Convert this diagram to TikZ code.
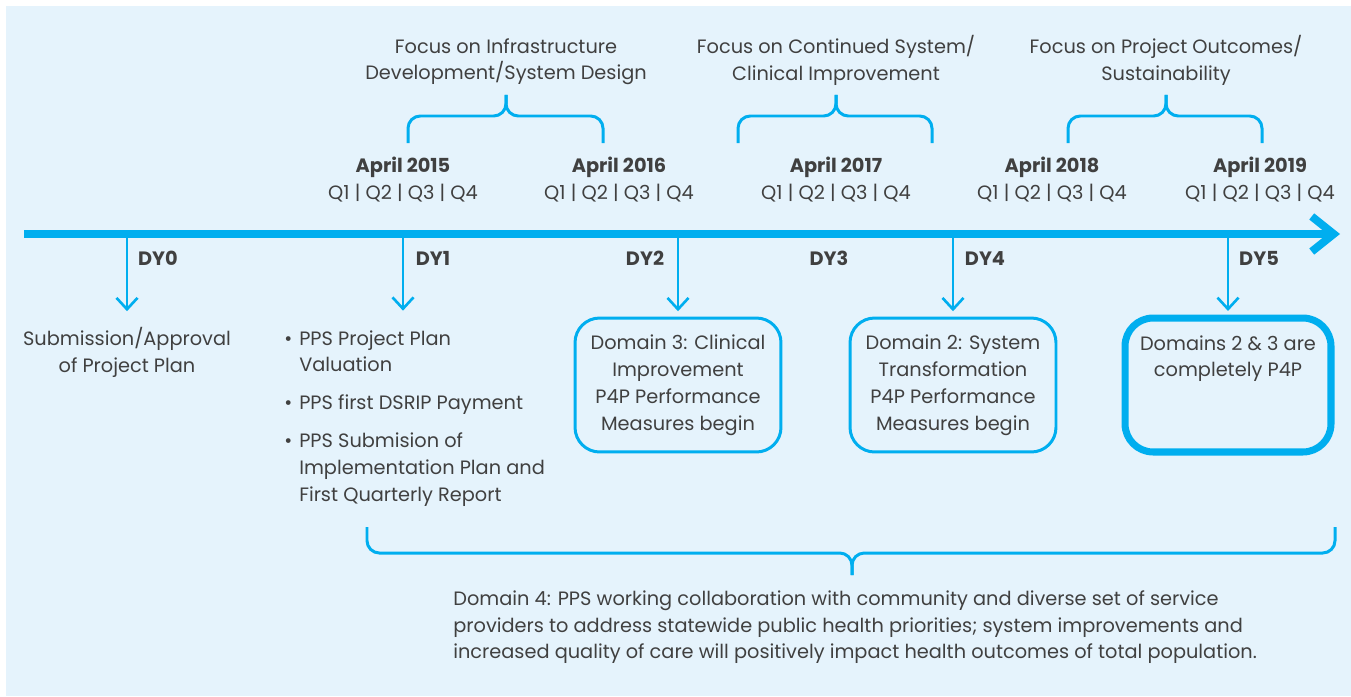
\documentclass[tikz,border=0pt]{standalone}
\usepackage{fontspec}
\setmainfont{Poppins}
\usetikzlibrary{arrows.meta, positioning}
\definecolor{tlblue}{RGB}{0, 174, 239}
\definecolor{bgblue}{RGB}{229, 243, 252}
\definecolor{txtgray}{RGB}{64, 64, 64}
\newcommand{\txtfont}{\fontsize{11}{15.3}\selectfont}
\newcommand{\bul}{\makebox[8.5pt][l]{\textbullet}}
\newcommand{\bulgap}{\hspace*{8.5pt}}

\begin{document}
\begin{tikzpicture}[x=0.02cm, y=-0.02cm,
  lbl/.style={text=txtgray, font=\txtfont, inner sep=0pt, align=center},
  dylbl/.style={lbl, font=\txtfont\bfseries, anchor=base},
  timeline/.style={tlblue, line width=4.5pt, -{Straight Barb[length=12.5pt, width=20pt]}},
  drop/.style={tlblue, line width=1.5pt, -{Straight Barb[length=6.5pt, width=12pt]}},
  brace/.style={tlblue, line width=1.7pt, rounded corners=7pt},
  dombox/.style={draw=tlblue, line width=1.7pt, rounded corners=14pt, minimum width=4.12cm, minimum height=2.68cm, lbl}
]
  \useasboundingbox (0,0) rectangle (1351,696);
  \fill[bgblue] (6,6) rectangle (1351,696);

  % Timeline
  \coordinate (tstart) at (24,234);
  \coordinate (tend) at (1340,234);
  \draw[timeline] (tstart) -- (tend);

  \coordinate (t0) at (127,234);
  \coordinate (t1) at (403,234);
  \coordinate (t2) at (678,234);
  \coordinate (t4) at (953,234);
  \coordinate (t5) at (1228,234);

  % Years
  \node[lbl, anchor=north] (y15) at (403,157) {\textbf{April 2015}\\Q1 | Q2 | Q3 | Q4};
  \node[lbl, anchor=north] (y16) at (619,157) {\textbf{April 2016}\\Q1 | Q2 | Q3 | Q4};
  \node[lbl, anchor=north] (y17) at (836,157) {\textbf{April 2017}\\Q1 | Q2 | Q3 | Q4};
  \node[lbl, anchor=north] (y18) at (1052,157) {\textbf{April 2018}\\Q1 | Q2 | Q3 | Q4};
  \node[lbl, anchor=north] (y19) at (1260,157) {\textbf{April 2019}\\Q1 | Q2 | Q3 | Q4};

  % Focus braces
  \node[lbl, anchor=north] (f1) at (506,38) {Focus on Infrastructure\\Development/System Design};
  \node[lbl, anchor=north] (f2) at (836,35) {Focus on Continued System/\\Clinical Improvement};
  \node[lbl, anchor=north] (f3) at (1166,35) {Focus on Project Outcomes/\\Sustainability};
  \foreach \n/\l/\r in {f1/408/603, f2/738/932, f3/1068/1262} {
    \draw[brace] (\l,143) -- (\l,116) -- (\n.south |- 0,116) -- (\n.south |- 0,95);
    \draw[brace] (\r,143) -- (\r,116) -- (\n.south |- 0,116) -- (\n.south |- 0,95);
  }

  % DY labels
  \node[dylbl] (dy0) at (158,265) {DY0};
  \node[dylbl] (dy1) at (433,265) {DY1};
  \node[dylbl] (dy2) at (645,265) {DY2};
  \node[dylbl] (dy3) at (829,265) {DY3};
  \node[dylbl] (dy4) at (985,265) {DY4};
  \node[dylbl] (dy5) at (1259,265) {DY5};

  % Milestones
  \node[lbl, anchor=north] (sub) at (127,327) {Submission/Approval\\of Project Plan};
  \node[lbl, anchor=north west, align=left] (pps) at (284,330) {%
    \bul PPS Project Plan\\\bulgap Valuation\\[6.2pt]%
    \bul PPS first DSRIP Payment\\[6.2pt]%
    \bul PPS Submision of\\\bulgap Implementation Plan and\\\bulgap First Quarterly Report};
  \node[dombox] (d3) at (678,385) {Domain 3: Clinical\\Improvement\\P4P Performance\\Measures begin};
  \node[dombox] (d2) at (953,385) {Domain 2: System\\Transformation\\P4P Performance\\Measures begin};
  \node[dombox, line width=4pt, rounded corners=16pt] (d5) at (1228,385) {};
  \node[lbl, anchor=north] (d5txt) at (1228,335) {Domains 2 \& 3 are\\completely P4P};

  \draw[drop, shorten >=9pt] (t0) -- (sub);
  \draw[drop, shorten >=11pt] (t1) -- (t1 |- pps.north);
  \draw[drop, shorten >=3pt] (t2) -- (d3);
  \draw[drop, shorten >=3pt] (t4) -- (d2);
  \draw[drop, shorten >=2pt] (t5) -- (d5);

  % Domain 4
  \draw[brace] (367,527) -- (367,553) -- (852,553) -- (852,575);
  \draw[brace] (1335,527) -- (1335,553) -- (852,553) -- (852,575);
  \node[lbl, anchor=north west, align=left] (d4) at (453,590) {Domain 4: PPS working collaboration with community and diverse set of service\\providers to address statewide public health priorities; system improvements and\\increased quality of care will positively impact health outcomes of total population.};
\end{tikzpicture}
\end{document}
